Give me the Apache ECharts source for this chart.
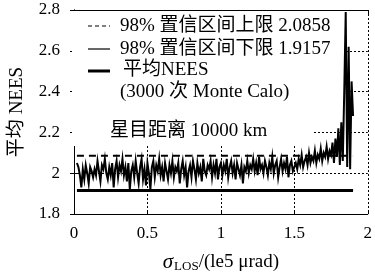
<!DOCTYPE html>
<html>
<head>
<meta charset="utf-8">
<script src="https://cdn.jsdelivr.net/npm/echarts@6/dist/echarts.min.js"></script>
<style>
  html, body { margin: 0; padding: 0; background: #fff; }
  #chart { width: 375px; height: 278px; }
</style>
</head>
<body>
<div id="chart"></div>
<script>
// 横轴刻度与区间
var xTicks = [0, 0.5, 1, 1.5, 2];
var yTicks = [1.8, 2.0, 2.2, 2.4, 2.6, 2.8];
// 采样起点和步长 (σ_LOS, le5 μrad)
var xStart = 0.02;
var xStep = 0.01;
// 置信区间
var upperLimit = 2.0858;
var lowerLimit = 1.9157;
var xEnd = 1.90;
// 平均 NEES (3000 次 Monte Calo)
var neesValues = [
  2.05, 2.03, 1.99, 1.93, 2.02, 1.97, 2.04, 2.00, 1.95, 2.03,
  2.01, 1.98, 2.02, 1.99, 2.06, 2.01, 1.96, 2.04, 2.02, 2.07,
  2.00, 1.97, 2.03, 1.99, 2.05, 1.93, 2.02, 2.06, 1.98, 2.04,
  2.01, 2.07, 1.99, 2.03, 1.96, 2.05, 1.92, 2.01, 2.04, 1.98,
  2.06, 2.00, 1.95, 2.03, 2.07, 1.97, 2.02, 1.94, 2.05, 2.00,
  1.92, 2.03, 2.06, 1.98, 2.04, 2.01, 2.07, 1.99, 2.03, 1.96,
  2.05, 2.01, 1.97, 2.04, 2.00, 2.06, 1.98, 2.03, 2.01, 2.05,
  1.95, 2.02, 2.06, 1.99, 2.03, 1.93, 2.01, 2.04, 1.98, 2.06,
  2.02, 1.97, 2.05, 2.00, 2.03, 1.96, 2.07, 2.01, 1.99, 2.04,
  2.02, 2.06, 1.98, 2.04, 2.00, 2.07, 1.97, 2.03, 2.05, 1.99,
  2.04, 2.01, 2.07, 1.98, 2.03, 2.06, 2.00, 2.04, 1.97, 2.05,
  2.02, 1.99, 2.04, 1.95, 2.03, 2.01, 2.06, 2.00, 2.04, 2.02,
  2.07, 2.01, 2.05, 1.99, 2.08, 2.02, 2.04, 2.00, 2.06, 2.03,
  1.99, 2.05, 2.02, 2.08, 2.00, 2.04, 2.06, 1.98, 2.03, 2.07,
  2.01, 2.05, 2.02, 2.08, 1.98, 2.04, 2.06, 2.01, 2.03, 2.05,
  2.02, 2.07, 2.04, 2.09, 2.03, 2.06, 2.08, 2.04, 2.10, 2.05,
  2.08, 2.06, 2.11, 2.05, 2.09, 2.07, 2.12, 2.06, 2.10, 2.08,
  2.13, 2.07, 2.11, 2.09, 2.15, 2.05, 2.17, 2.08, 2.22, 2.04,
  2.25, 2.06, 2.40, 2.79, 2.03, 2.62, 2.02, 2.45, 2.28
];

var serif = '"Liberation Serif", "DejaVu Serif", "Noto Sans CJK SC", serif';

var neesData = neesValues.map(function (v, i) {
  return [+(xStart + i * xStep).toFixed(2), v];
});

var chart = echarts.init(document.getElementById('chart'));

var option = {
  animation: false,
  backgroundColor: '#fff',
  textStyle: { fontFamily: serif, color: '#000' },
  grid: { left: 71, right: 3, top: 10, bottom: 63 },
  xAxis: [
    {
      type: 'value', min: xTicks[0], max: xTicks[xTicks.length - 1], interval: 0.5,
      axisLine: { lineStyle: { color: '#000', width: 1 } },
      axisTick: { inside: true, length: 4, lineStyle: { color: '#000' } },
      axisLabel: { color: '#000', fontSize: 17, fontFamily: serif, margin: 11 },
      splitLine: { show: true, lineStyle: { color: '#000', type: [2, 2], width: 1 } },
      name: '{s|σ}{sub|LOS}{t|/(le5 μrad)}',
      nameLocation: 'middle',
      nameGap: 37,
      nameTextStyle: {
        rich: {
          s: { fontSize: 21, fontFamily: serif, fontStyle: 'italic', color: '#000' },
          sub: { fontSize: 13, fontFamily: serif, color: '#000', padding: [9, 0, 0, 1] },
          t: { fontSize: 19, fontFamily: serif, color: '#000' }
        }
      }
    },
    {
      type: 'value', position: 'top', min: 0, max: 2, interval: 0.5,
      axisLine: { show: true, lineStyle: { color: '#000', width: 1 } },
      axisTick: { show: true, inside: true, length: 4, lineStyle: { color: '#000' } },
      axisLabel: { show: false },
      splitLine: { show: false }
    }
  ],
  yAxis: [
    {
      type: 'value', min: 1.8, max: 2.8, interval: 0.2,
      axisLine: { show: true, lineStyle: { color: '#000', width: 1 } },
      axisTick: { show: true, inside: true, length: 4, lineStyle: { color: '#000' } },
      axisLabel: { color: '#000', fontSize: 17, fontFamily: serif, margin: 14,
        formatter: function (v) { return String(+v.toFixed(1)); } },
      splitLine: { show: true, lineStyle: { color: '#000', type: [2, 2], width: 1 } },
      name: '平均 NEES',
      nameLocation: 'middle',
      nameGap: 47,
      nameTextStyle: { fontSize: 19, fontFamily: serif, color: '#000' }
    },
    {
      type: 'value', position: 'right', min: 1.8, max: 2.8, interval: 0.2,
      axisLine: { show: true, lineStyle: { color: '#000', width: 1 } },
      axisTick: { show: true, inside: true, length: 4, lineStyle: { color: '#000' } },
      axisLabel: { show: false },
      splitLine: { show: false }
    }
  ],
  graphic: [
    // 图例背景 (遮住网格线)
    { type: 'rect', z: 1, shape: { x: 72, y: 11, width: 273, height: 110 }, style: { fill: '#fff' } },
    { type: 'rect', z: 1, shape: { x: 72, y: 121, width: 241, height: 25 }, style: { fill: '#fff' } },
    { type: 'line', z: 5, shape: { x1: 88, y1: 26, x2: 110, y2: 26 },
      style: { stroke: '#000', lineWidth: 1.2, lineDash: [4, 3] } },
    { type: 'line', z: 5, shape: { x1: 88, y1: 49, x2: 110, y2: 49 },
      style: { stroke: '#000', lineWidth: 1.2 } },
    { type: 'line', z: 5, shape: { x1: 88, y1: 71, x2: 110, y2: 71 },
      style: { stroke: '#000', lineWidth: 3 } },
    { type: 'text', z: 5, x: 120, y: 26, style: { text: '98% 置信区间上限 2.0858', font: '19px ' + serif, fill: '#000', verticalAlign: 'middle' } },
    { type: 'text', z: 5, x: 120, y: 49, style: { text: '98% 置信区间下限 1.9157', font: '19px ' + serif, fill: '#000', verticalAlign: 'middle' } },
    { type: 'text', z: 5, x: 123, y: 70, style: { text: '平均NEES', font: '19px ' + serif, fill: '#000', verticalAlign: 'middle' } },
    { type: 'text', z: 5, x: 120, y: 92, style: { text: '(3000 次 Monte Calo)', font: '19px ' + serif, fill: '#000', verticalAlign: 'middle' } },
    { type: 'text', z: 5, x: 110, y: 131, style: { text: '星目距离 10000 km', font: '19px ' + serif, fill: '#000', verticalAlign: 'middle' } }
  ],
  series: [
    {
      name: '98% 置信区间上限', type: 'line', xAxisIndex: 0, yAxisIndex: 0,
      data: [[xStart, upperLimit], [xEnd, upperLimit]],
      symbol: 'none', z: 3,
      lineStyle: { color: '#000', width: 2, type: [7, 5] }
    },
    {
      name: '98% 置信区间下限', type: 'line', xAxisIndex: 0, yAxisIndex: 0,
      data: [[xStart, lowerLimit], [xEnd, lowerLimit]],
      symbol: 'none', z: 3,
      lineStyle: { color: '#000', width: 3 }
    },
    {
      name: '平均NEES', type: 'line', xAxisIndex: 0, yAxisIndex: 0,
      data: neesData,
      symbol: 'none', z: 4,
      lineStyle: { color: '#000', width: 2, join: 'miter' }
    }
  ]
};

chart.setOption(option);
</script>
</body>
</html>
